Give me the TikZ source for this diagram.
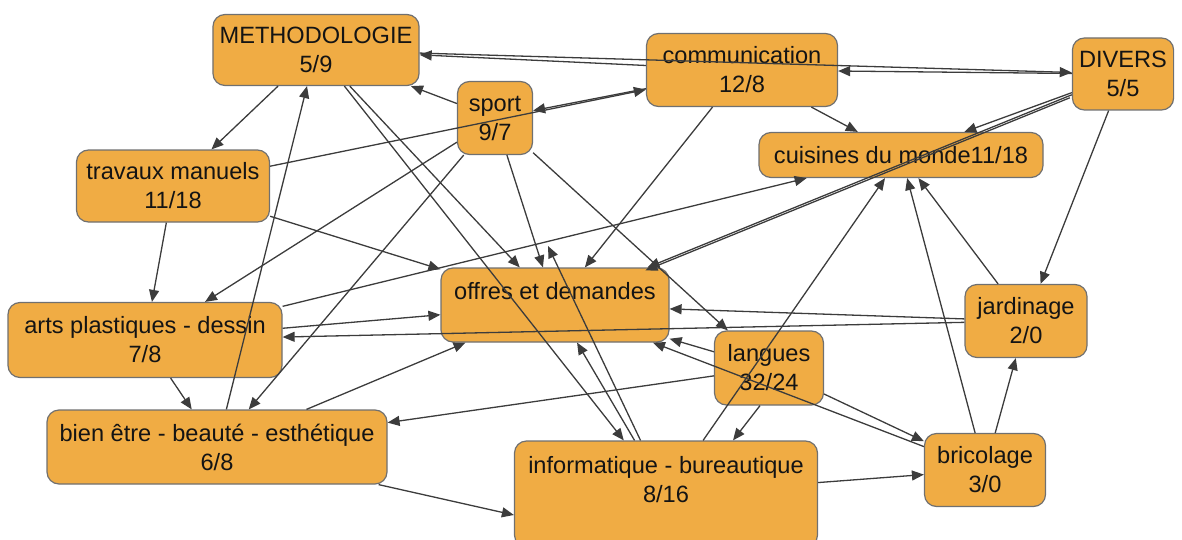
\documentclass[tikz,border=0pt]{standalone}
\usepackage{fontspec}
\setmainfont{Liberation Sans}
\usetikzlibrary{arrows.meta}
\definecolor{boxfill}{HTML}{F0AC44}
\definecolor{boxline}{HTML}{707070}
\definecolor{linkc}{HTML}{3C3C3C}

\begin{document}
\begin{tikzpicture}[x=0.5pt,y=-0.5pt,main/.style={draw=boxline,line width=0.6pt,fill=boxfill,rounded corners=6pt,align=center,font=\fontsize{11.8}{14.5}\selectfont,text=black!92},link/.style={draw=linkc,line width=0.65pt,-{Triangle[length=6pt,width=5pt]}}]
\useasboundingbox (0,0) rectangle (1182,540);
\node[main,minimum width=103pt,minimum height=35.5pt] (meth) at (316,50) {METHODOLOGIE\\5/9};
\node[main,minimum width=95.5pt,minimum height=36.5pt] (com) at (742,70) {communication\\12/8};
\node[main,minimum width=45pt,minimum height=36pt] (div) at (1123,74) {DIVERS\\5/5};
\node[main,minimum width=37.5pt,minimum height=36.5pt] (sport) at (495,118) {sport\\9/7};
\node[main,minimum width=96.5pt,minimum height=36pt] (trav) at (173,186) {travaux manuels\\11/18};
\node[main,minimum width=142pt,minimum height=22.5pt] (cuis) at (901,155) {cuisines du monde11/18};
\node[main,minimum width=114pt,minimum height=37pt] (off) at (555,305) {offres et demandes\\\mbox{}};
\node[main,minimum width=61pt,minimum height=36.5pt] (jard) at (1026,321) {jardinage\\2/0};
\node[main,minimum width=137pt,minimum height=37.5pt] (arts) at (145,340) {arts plastiques - dessin\\7/8};
\node[main,minimum width=54.5pt,minimum height=37pt] (lang) at (769,368) {langues\\32/24};
\node[main,minimum width=170pt,minimum height=37pt] (bien) at (217,447) {bien être - beauté - esthétique\\6/8};
\node[main,minimum width=151.5pt,minimum height=53pt] (info) at (666,494) {informatique - bureautique\\8/16\\\mbox{}};
\node[main,minimum width=60.5pt,minimum height=36.5pt] (bric) at (985,470) {bricolage\\3/0};
\coordinate (g) at (548,246);
\draw[link] (com) -- (meth);
\draw[link] (meth) -- (div);
\draw[link] (div) -- (com);
\draw[link] (sport) -- (meth);
\draw[link] (meth) -- (trav);
\draw[link] (bien) -- (meth);
\draw[link] (meth) -- (off);
\draw[link] (meth) -- (info);
\draw[link] (com) -- (sport);
\draw[link] (trav) -- (com);
\draw[link] (sport) -- (arts);
\draw[link] (sport) -- (bien);
\draw[link] (sport) -- (lang);
\draw[link] (sport) -- (off);
\draw[link] (trav) -- (off);
\draw[link] (trav) -- (arts);
\draw[link] (com) -- (cuis);
\draw[link] (com) -- (off);
\draw[link] (div) -- (cuis);
\draw[link] (div) -- (off);
\draw[link,transform canvas={xshift=-1pt,yshift=-1.5pt}] (div) -- (off);
\draw[link] (div) -- (jard);
\draw[link] (arts) -- (cuis);
\draw[link] (info) -- (cuis);
\draw[link] (bric) -- (cuis);
\draw[link] (jard) -- (cuis);
\draw[link] (arts) -- (off);
\draw[link] (jard) -- (off);
\draw[link] (jard) -- (arts);
\draw[link] (lang) -- (off);
\draw[link] (bric) -- (off);
\draw[link] (bien) -- (off);
\draw[link] (info) -- (off);
\draw[link] (info) -- (g);
\draw[link] (bric) -- (jard);
\draw[link] (arts) -- (bien);
\draw[link] (lang) -- (bien);
\draw[link] ([xshift=-4.5pt]lang.south) -- ([xshift=33.5pt]info.north);
\draw[link] (lang) -- (bric);
\draw[link] ([xshift=-4.5pt]bien.south east) -- ([yshift=-10.5pt]info.west);
\draw[link] (info) -- (bric);
\end{tikzpicture}
\end{document}
